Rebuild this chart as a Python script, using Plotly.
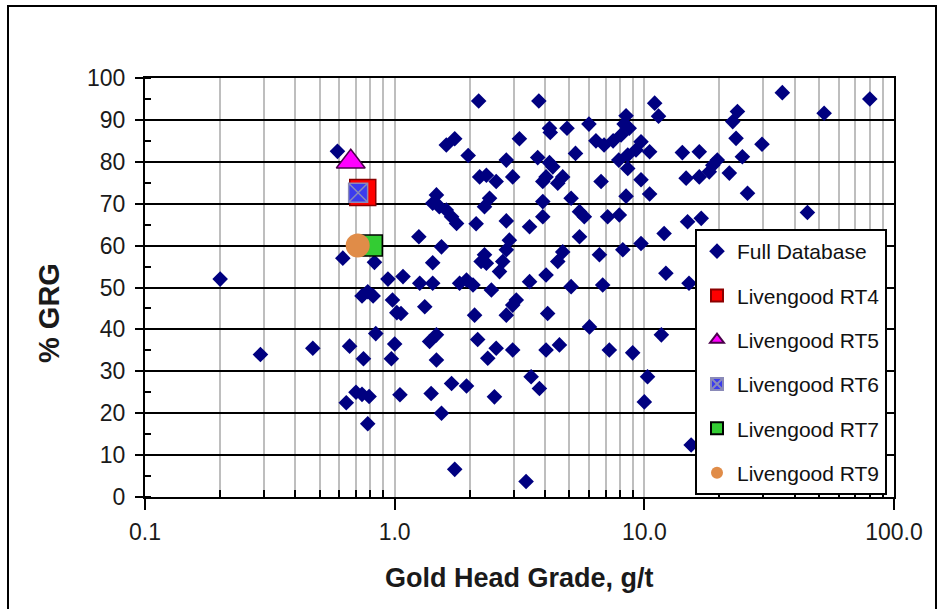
import plotly.graph_objects as go

# ---- data ----
db_grade = [0.20, 0.29, 0.47, 0.59, 0.62, 0.66, 0.75, 0.84, 0.97, 1.0, 0.64, 0.70, 0.74, 0.79, 0.78,
            1.05, 0.74, 0.78, 0.82, 0.83, 0.94, 0.98, 1.02, 1.06, 1.08, 1.32,
            2.17, 3.78, 1.74, 1.61, 1.97, 3.16, 4.17, 4.2, 4.9, 6.0, 5.3, 6.4, 6.9, 7.5, 8.45, 8.3, 8.7,
            8.07, 7.9, 8.58, 8.58, 9.26, 2.8, 3.74, 4.17, 4.3, 4.04, 3.92, 4.71, 4.5, 2.19, 2.33, 2.55,
            2.97, 2.40, 2.29, 6.71, 8.45, 1.47, 1.42, 1.51, 1.61, 1.69, 1.77, 2.12, 2.8, 3.47, 3.92, 3.92,
            5.09, 5.5, 5.75, 7.13, 7.94, 5.5, 6.61, 8.2, 1.25, 1.54, 1.42, 2.88, 2.8, 2.71, 2.63, 2.29,
            2.22, 2.33, 4.04, 4.5, 4.71, 3.47, 1.94, 1.82, 1.26, 1.42, 6.81,
            2.06, 2.44, 5.09, 2.09, 2.8, 3.07, 2.97, 4.1, 6.03, 1.38, 1.47, 1.47, 2.15, 2.55, 2.36, 2.97,
            4.04, 4.57, 7.24, 8.98, 1.4, 1.69, 1.94, 2.51, 3.52, 3.8, 1.54, 1.74, 3.36, 10.0,
            35.7, 80.0, 52.5, 11.0, 11.4, 23.6, 22.6, 23.3, 29.6, 24.7, 19.6, 18.8, 16.6, 14.2, 9.7, 10.5,
            14.7, 16.6, 18.2, 21.9, 25.9, 9.7, 10.5, 45.0, 14.9, 16.9, 12.0, 9.7, 12.2, 15.1, 11.7, 10.3,
            15.4]
db_grg = [52, 34, 35.5, 82.5, 57, 36, 33, 39, 33, 36.5, 22.5, 25, 24.5, 24, 17.5,
          24.4, 48, 49, 48, 56, 52, 47, 44, 43.8, 52.6, 45.4,
          94.5, 94.5, 85.5, 84, 81.5, 85.5, 88, 87, 88, 89, 82, 85, 84, 85, 91, 89, 88,
          86.4, 80.4, 81.6, 78.4, 82.8, 80.4, 81, 79.8, 78.8, 76.4, 75.3, 76.4, 74.9, 76.4, 76.8, 75.3,
          76.4, 71.3, 69.3, 75.3, 71.8, 72.1, 70.1, 69.3, 68.5, 66.9, 65.3, 65.2, 65.9, 64.5, 70.5, 66.9,
          71.3, 68.1, 66.9, 66.9, 67.3, 62.1, 57.8, 59, 62.1, 59.7, 55.9, 61.3, 59, 56.2, 53.8, 57.8,
          56.2, 55.8, 53, 56.2, 58.5, 51.4, 51.8, 51, 51, 51, 50.6,
          50.6, 49.4, 50.2, 43.4, 43.4, 47, 45.8, 43.8, 40.6, 37.1, 38.7, 32.7, 37.6, 35.5, 33.1, 35.1,
          35.1, 36.3, 35.1, 34.4, 24.7, 27.1, 26.5, 23.9, 28.7, 25.9, 20, 6.6, 3.7, 22.7,
          96.5, 95, 91.6, 94, 90.9, 92, 89.6, 85.6, 84.2, 81.2, 80.4, 79.2, 82.4, 82.2, 84.8, 82.4,
          76.1, 76.4, 77.6, 77.3, 72.5, 75.7, 72.3, 67.9, 65.7, 66.5, 62.9, 60.5, 53.4, 51, 38.7, 28.7,
          12.4]

rt_names = ["Livengood RT4", "Livengood RT5", "Livengood RT6", "Livengood RT7", "Livengood RT9"]
rt_grade = [0.745, 0.667, 0.714, 0.81, 0.711]
rt_grg = [72.7, 80.0, 72.6, 60.0, 60.0]

x_tick_vals = [0.1, 1, 10, 100]
x_tick_text = ["0.1", "1.0", "10.0", "100.0"]
x_minor_vals = [m * d for d in (0.1, 1, 10) for m in range(2, 10)]
y_tick_vals = list(range(0, 101, 10))

# ---- styles ----
rt_styles = [
    dict(symbol="square", size=26, color="#FF0000", line=dict(color="#8B0000", width=1.5)),
    dict(symbol="triangle-up", size=25, color="#FF00FF", line=dict(color="#4B004B", width=1.5)),
    dict(symbol="square-x", size=19, color="#3B3BEE", line=dict(color="#8A8AB8", width=1.5)),
    dict(symbol="square", size=21, color="#33CC33", line=dict(color="#000000", width=1.5)),
    dict(symbol="circle", size=24, color="#E08C48", line=dict(color="#E08C48", width=0)),
]

fig = go.Figure()
fig.add_trace(go.Scatter(
    x=db_grade, y=db_grg, mode="markers", name="Full Database", legendgroup="g0",
    marker=dict(symbol="diamond", size=12, color="#000080", line=dict(width=0)),
))
for i, (nm, gx, gy, st) in enumerate(zip(rt_names, rt_grade, rt_grg, rt_styles)):
    fig.add_trace(go.Scatter(
        x=[gx], y=[gy], mode="markers", name=nm, legendgroup="g%d" % (i + 1),
        marker=st,
    ))

W, H = 940, 609
L, R, T, B = 145, 46, 78, 112
pw, ph = W - L - R, H - T - B

def px_x(p):
    return (p - L) / pw

def px_y(p):
    return (H - B - p) / ph

tick_font = dict(family="Arial, Liberation Sans, sans-serif", size=23, color="#1a1a1a")

fig.update_layout(
    width=W, height=H,
    margin=dict(l=L, r=R, t=T, b=B),
    paper_bgcolor="white", plot_bgcolor="white",
    showlegend=True,
    legend=dict(
        x=px_x(695), y=px_y(229), xanchor="left", yanchor="top",
        bgcolor="white", bordercolor="black", borderwidth=2,
        font=dict(family="Arial, Liberation Sans, sans-serif", size=21, color="#111111"),
        itemsizing="constant", traceorder="grouped", tracegroupgap=14,
    ),
    xaxis=dict(
        type="log", range=[-1, 2],
        tickmode="array", tickvals=x_tick_vals, ticktext=x_tick_text,
        ticks="outside", ticklen=11, tickwidth=2, tickcolor="black",
        tickfont=tick_font, ticklabelstandoff=2,
        showgrid=True, gridcolor="#BEBEBE", gridwidth=2,
        showline=True, linecolor="black", linewidth=2, mirror=True,
        minor=dict(tickmode="array", tickvals=x_minor_vals, ticks="inside", ticklen=7,
                   tickwidth=2, tickcolor="black", showgrid=True, gridcolor="#BEBEBE", gridwidth=2),
        zeroline=False,
    ),
    yaxis=dict(
        range=[0, 100],
        tickmode="array", tickvals=y_tick_vals,
        ticks="outside", ticklen=8, tickwidth=2, tickcolor="black",
        tickfont=tick_font, ticklabelstandoff=5,
        showgrid=True, gridcolor="black", gridwidth=2,
        showline=True, linecolor="black", linewidth=2, mirror=True,
        minor=dict(dtick=5, ticks="inside", ticklen=6, tickwidth=2, tickcolor="black", showgrid=False),
        zeroline=False,
    ),
    annotations=[
        dict(text="<b>% GRG</b>", xref="paper", yref="paper", x=px_x(49), y=px_y(313),
             textangle=-90, showarrow=False, xanchor="center", yanchor="middle",
             font=dict(family="Arial, Liberation Sans, sans-serif", size=29, color="#1a1a1a")),
        dict(text="<b>Gold Head Grade, g/t</b>", xref="paper", yref="paper", x=px_x(519), y=px_y(578),
             showarrow=False, xanchor="center", yanchor="middle",
             font=dict(family="Arial, Liberation Sans, sans-serif", size=27, color="#1a1a1a")),
    ],
    shapes=[
        dict(type="rect", xref="paper", yref="paper",
             x0=px_x(8), x1=px_x(936), y0=px_y(640), y1=px_y(6),
             line=dict(color="black", width=2), fillcolor="rgba(0,0,0,0)", layer="below"),
    ],
)

fig.write_html("out.html", config={"displayModeBar": False},
               post_script="document.body.style.margin='0';document.body.style.overflow='hidden';")
